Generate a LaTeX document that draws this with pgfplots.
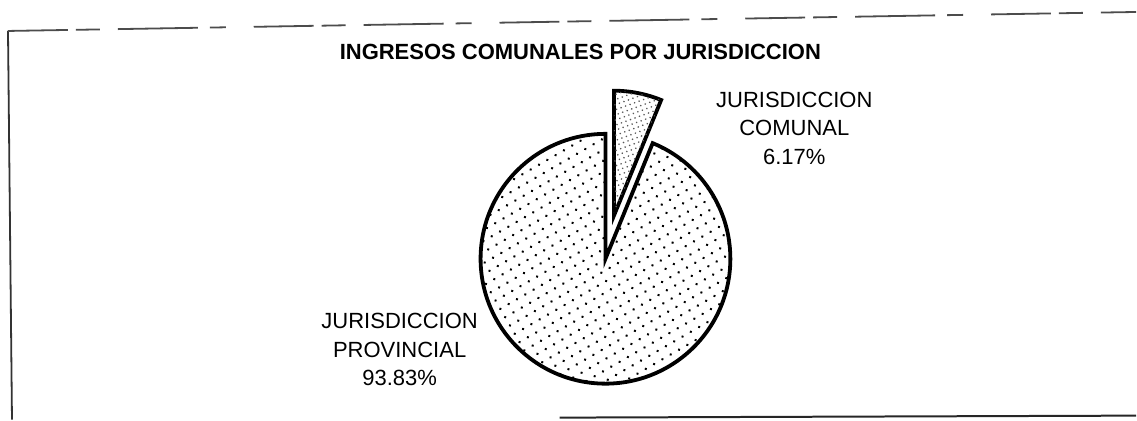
\documentclass[border=0pt]{standalone}
\usepackage{pgfplots}
\pgfplotsset{compat=1.18}
\usepackage{pgfplotstable}
\usetikzlibrary{patterns.meta}
\usepackage{fontspec}
\setmainfont{Liberation Sans}
\pgfplotstableread{
name value
provincial 93.83
comunal 6.17
}\piedata
\pgfplotstablegetelem{0}{value}\of\piedata \let\valProv\pgfplotsretval
\pgfplotstablegetelem{1}{value}\of\piedata \let\valCom\pgfplotsretval
\begin{document}
\begin{tikzpicture}
\begin{axis}[
  hide axis, scale only axis,
  width=568.5pt, height=210pt,
  xmin=0, xmax=1137, ymin=0, ymax=420,
  clip=false,
]
% invisible anchor points to fix the axis range
\addplot[draw=none, mark=none] coordinates {(0,0) (1137,420)};
% frame (scanned border)
\draw[line width=0.9pt, black!80] (axis cs:8,389) -- (axis cs:12,0);
\draw[line width=0.9pt, black!70, dash pattern=on 30pt off 4pt on 12pt off 9pt on 40pt off 6pt on 8pt off 14pt] (axis cs:8,389) -- (axis cs:1137,408);
\draw[line width=1pt, black!85] (axis cs:560,2) -- (axis cs:1137,4);
% pie
\pgfmathsetmacro{\angCom}{3.6*\valCom}
\pgfmathsetmacro{\angEnd}{90+3.6*\valProv}
\pgfmathsetmacro{\midCom}{90-\angCom/2}
\def\R{62.5pt}
\filldraw[line width=1.9pt, fill=white, postaction={pattern={Dots[distance=4.8pt,radius=0.7pt,angle=30]}}]
  (axis cs:606,161) -- ++(90:\R) arc[start angle=90, end angle=\angEnd, radius=\R] -- cycle;
\filldraw[line width=1.9pt, fill=white, postaction={pattern={Dots[distance=2.4pt,radius=0.45pt,angle=20]}, pattern color=black!65}]
  (axis cs:606,161) ++(\midCom:22pt) -- ++(90-\angCom:\R) arc[start angle=90-\angCom, end angle=90, radius=\R] -- cycle;
% title and labels
\node[anchor=west, font=\fontsize{11}{13}\selectfont\bfseries] at (axis cs:333,368.5) {INGRESOS COMUNALES POR JURISDICCION};
\node[align=center, font=\fontsize{11}{14.25}\selectfont] at (axis cs:795,291.5) {JURISDICCION\\COMUNAL\\6.17\%};
\node[align=center, font=\fontsize{11}{14.25}\selectfont] at (axis cs:400,70) {JURISDICCION\\PROVINCIAL\\93.83\%};
\end{axis}
\end{tikzpicture}
\end{document}
